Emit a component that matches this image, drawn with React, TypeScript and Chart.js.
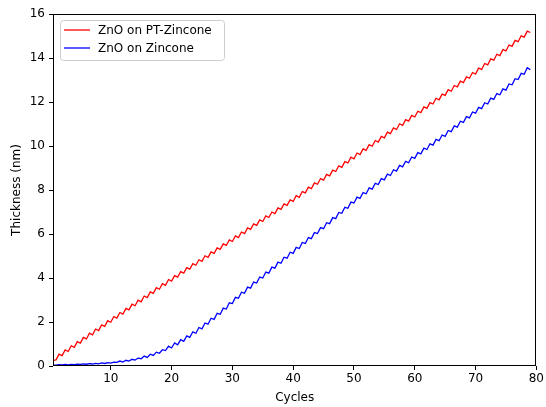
import React, { useEffect, useRef } from "react";
import { Chart, registerables } from "chart.js";

Chart.register(...registerables);

// Thickness sampled every half cycle, from cycle 0.5 to cycle 79
const ptZinconeThickness = [
  0.26,
  0.28, 0.54, 0.47, 0.73, 0.66, 0.92, 0.85, 1.11, 1.04, 1.30,
  1.23, 1.49, 1.42, 1.68, 1.61, 1.87, 1.80, 2.06, 1.99, 2.25,
  2.18, 2.43, 2.36, 2.62, 2.55, 2.81, 2.74, 2.99, 2.92, 3.18,
  3.11, 3.37, 3.30, 3.56, 3.49, 3.74, 3.67, 3.93, 3.86, 4.11,
  4.04, 4.29, 4.22, 4.47, 4.40, 4.65, 4.58, 4.83, 4.76, 5.01,
  4.94, 5.19, 5.12, 5.37, 5.30, 5.55, 5.48, 5.73, 5.66, 5.91,
  5.84, 6.09, 6.02, 6.28, 6.21, 6.46, 6.39, 6.64, 6.57, 6.82,
  6.75, 7.00, 6.93, 7.19, 7.12, 7.37, 7.30, 7.55, 7.48, 7.74,
  7.67, 7.93, 7.87, 8.13, 8.06, 8.32, 8.26, 8.52, 8.45, 8.71,
  8.64, 8.90, 8.84, 9.10, 9.03, 9.29, 9.23, 9.49, 9.42, 9.68,
  9.61, 9.87, 9.80, 10.06, 9.99, 10.25, 10.18, 10.44, 10.37, 10.63,
  10.56, 10.82, 10.75, 11.01, 10.94, 11.20, 11.13, 11.39, 11.32, 11.58,
  11.52, 11.78, 11.71, 11.97, 11.91, 12.17, 12.10, 12.36, 12.30, 12.56,
  12.49, 12.75, 12.69, 12.95, 12.88, 13.14, 13.08, 13.34, 13.27, 13.54,
  13.48, 13.75, 13.69, 13.96, 13.90, 14.17, 14.11, 14.38, 14.32, 14.59,
  14.53, 14.80, 14.74, 15.01, 14.95, 15.22,
  15.16,
];

const zinconeThickness = [
  0.04,
  0.04, 0.06, 0.045, 0.07, 0.05, 0.075, 0.06, 0.085, 0.07, 0.095,
  0.08, 0.105, 0.09, 0.12, 0.10, 0.14, 0.115, 0.155, 0.135, 0.18,
  0.165, 0.225, 0.18, 0.26, 0.22, 0.305, 0.27, 0.36, 0.33, 0.45,
  0.39, 0.535, 0.48, 0.63, 0.58, 0.74, 0.70, 0.90, 0.82, 1.05,
  0.96, 1.20, 1.12, 1.37, 1.30, 1.555, 1.49, 1.75, 1.69, 1.955,
  1.90, 2.17, 2.12, 2.395, 2.35, 2.63, 2.59, 2.875, 2.84, 3.12,
  3.08, 3.355, 3.31, 3.585, 3.54, 3.815, 3.77, 4.045, 4.00, 4.27,
  4.22, 4.495, 4.45, 4.72, 4.67, 4.945, 4.90, 5.17, 5.12, 5.39,
  5.34, 5.615, 5.57, 5.84, 5.79, 6.065, 6.02, 6.29, 6.24, 6.515,
  6.47, 6.745, 6.70, 6.98, 6.94, 7.215, 7.17, 7.45, 7.41, 7.675,
  7.62, 7.885, 7.83, 8.095, 8.04, 8.305, 8.25, 8.515, 8.46, 8.72,
  8.66, 8.92, 8.86, 9.115, 9.05, 9.305, 9.24, 9.50, 9.44, 9.70,
  9.64, 9.90, 9.84, 10.10, 10.04, 10.30, 10.24, 10.50, 10.44, 10.705,
  10.65, 10.915, 10.86, 11.125, 11.07, 11.335, 11.28, 11.545, 11.49, 11.755,
  11.70, 11.965, 11.91, 12.175, 12.12, 12.385, 12.33, 12.595, 12.54, 12.82,
  12.78, 13.06, 13.02, 13.30, 13.26, 13.56,
  13.47,
];

const firstCycle = 0.5;
const cycleStep = 0.5;
const xTicks = [10, 20, 30, 40, 50, 60, 70, 80];
const yTicks = [0, 2, 4, 6, 8, 10, 12, 14, 16];
const seriesLabels = ["ZnO on PT-Zincone", "ZnO on Zincone"];
const seriesColors = ["#ff0000", "#0000ff"];

const FONT = "'DejaVu Sans', sans-serif";

export default function App() {
  const canvasRef = useRef<HTMLCanvasElement | null>(null);

  useEffect(() => {
    document.body.style.margin = "0";
    const canvas = canvasRef.current;
    if (!canvas) return;

    const toPoints = (arr: number[]) =>
      arr.map((y, i) => ({ x: firstCycle + i * cycleStep, y }));

    const framePlugin = {
      id: "frameAndLegend",
      afterDraw(chart: any) {
        const { ctx, chartArea } = chart;
        ctx.save();
        ctx.strokeStyle = "#000";
        ctx.lineWidth = 1;
        ctx.strokeRect(
          Math.round(chartArea.left) + 0.5,
          Math.round(chartArea.top) + 0.5,
          Math.round(chartArea.right - chartArea.left) - 1,
          Math.round(chartArea.bottom - chartArea.top) - 1
        );

        // legend
        const lx = 60.5, ly = 20.5, lw = 164, lh = 40, r = 3;
        ctx.beginPath();
        ctx.moveTo(lx + r, ly);
        ctx.lineTo(lx + lw - r, ly);
        ctx.quadraticCurveTo(lx + lw, ly, lx + lw, ly + r);
        ctx.lineTo(lx + lw, ly + lh - r);
        ctx.quadraticCurveTo(lx + lw, ly + lh, lx + lw - r, ly + lh);
        ctx.lineTo(lx + r, ly + lh);
        ctx.quadraticCurveTo(lx, ly + lh, lx, ly + lh - r);
        ctx.lineTo(lx, ly + r);
        ctx.quadraticCurveTo(lx, ly, lx + r, ly);
        ctx.closePath();
        ctx.fillStyle = "rgba(255,255,255,0.8)";
        ctx.fill();
        ctx.strokeStyle = "#cccccc";
        ctx.stroke();

        const rows = [30, 48];
        ctx.font = `12px ${FONT}`;
        ctx.textBaseline = "middle";
        ctx.textAlign = "left";
        seriesLabels.forEach((label, i) => {
          ctx.strokeStyle = seriesColors[i];
          ctx.lineWidth = 1.3;
          ctx.beginPath();
          ctx.moveTo(64, rows[i]);
          ctx.lineTo(90, rows[i]);
          ctx.stroke();
          ctx.fillStyle = "#000";
          ctx.fillText(label, 98, rows[i] + 1);
        });
        ctx.restore();
      },
    };

    const chart = new Chart(canvas, {
      type: "line",
      data: {
        datasets: [
          {
            label: seriesLabels[0],
            data: toPoints(ptZinconeThickness),
            borderColor: seriesColors[0],
            borderWidth: 1.3,
            pointRadius: 0,
            tension: 0,
            fill: false,
          },
          {
            label: seriesLabels[1],
            data: toPoints(zinconeThickness),
            borderColor: seriesColors[1],
            borderWidth: 1.3,
            pointRadius: 0,
            tension: 0,
            fill: false,
          },
        ],
      },
      options: {
        responsive: false,
        animation: false,
        devicePixelRatio: 1,
        layout: { padding: { left: 0, top: 14, right: 7, bottom: 0 } },
        plugins: { legend: { display: false }, tooltip: { enabled: false } },
        scales: {
          x: {
            type: "linear",
            min: 0.5,
            max: 80,
            afterBuildTicks: (scale: any) => {
              scale.ticks = xTicks.map((v) => ({ value: v }));
            },
            afterFit: (scale: any) => {
              scale.height = 41;
            },
            border: { display: false },
            grid: {
              drawOnChartArea: false,
              drawTicks: true,
              tickLength: 4,
              color: "#000",
              lineWidth: 1,
            },
            ticks: {
              color: "#000",
              font: { family: FONT, size: 12 },
              padding: 2,
              maxRotation: 0,
              autoSkip: false,
            },
            title: {
              display: true,
              text: "Cycles",
              color: "#000",
              font: { family: FONT, size: 12 },
              padding: { top: 0, bottom: 2 },
            },
          },
          y: {
            type: "linear",
            min: 0,
            max: 16,
            afterBuildTicks: (scale: any) => {
              scale.ticks = yTicks.map((v) => ({ value: v }));
            },
            afterFit: (scale: any) => {
              scale.width = 53;
            },
            border: { display: false },
            grid: {
              drawOnChartArea: false,
              drawTicks: true,
              tickLength: 4,
              color: "#000",
              lineWidth: 1,
            },
            ticks: {
              color: "#000",
              font: { family: FONT, size: 12 },
              padding: 4,
              autoSkip: false,
            },
            title: {
              display: true,
              text: "Thickness (nm)",
              color: "#000",
              font: { family: FONT, size: 12 },
              padding: { top: 10, bottom: 0 },
            },
          },
        },
      },
      plugins: [framePlugin],
    });

    return () => chart.destroy();
  }, []);

  return (
    <div style={{ width: 546, height: 407 }}>
      <canvas ref={canvasRef} width={546} height={407} />
    </div>
  );
}
